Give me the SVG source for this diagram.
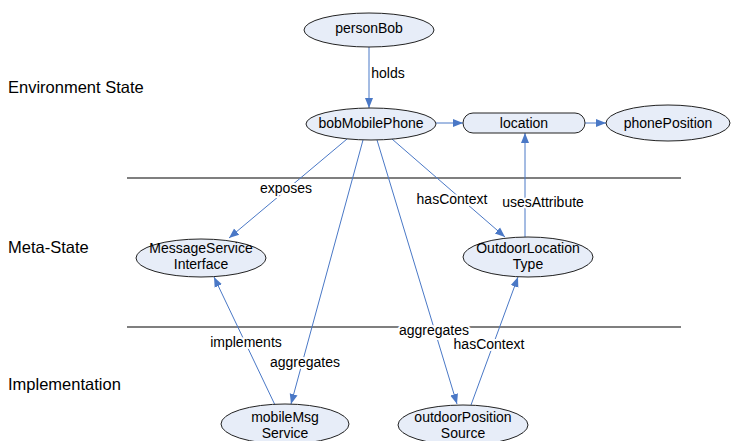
<svg xmlns="http://www.w3.org/2000/svg" width="731" height="441" viewBox="0 0 731 441">
  <style>
    .node { fill: #e7edf8; stroke: #222; stroke-width: 1; }
    .nlabel { font-family: "Liberation Sans", Arial, sans-serif; font-size: 14px; fill: #000; text-anchor: middle; }
    .elabel { font-family: "Liberation Sans", Arial, sans-serif; font-size: 14px; fill: #000; text-anchor: middle; stroke: #fff; stroke-width: 4; paint-order: stroke; stroke-linejoin: round; }
    .layer { font-family: "Liberation Sans", Arial, sans-serif; font-size: 16.5px; fill: #000; }
    .edge { stroke: #4a78c6; stroke-width: 1; fill: none; marker-end: url(#arrow); }
    .divider { stroke: #555; stroke-width: 1.3; }
  </style>
  <defs>
    <marker id="arrow" viewBox="0 0 10 10" refX="10" refY="5" markerWidth="10" markerHeight="10" markerUnits="userSpaceOnUse" orient="auto">
      <path d="M0,1 L10,5 L0,9 Z" fill="#4a78c6"/>
    </marker>
  </defs>

  <rect width="731" height="441" fill="#fff"/>

  <!-- layer captions and separators -->
  <g id="layers">
    <text class="layer" x="8" y="93">Environment State</text>
    <text class="layer" x="8" y="253">Meta-State</text>
    <text class="layer" x="8" y="390">Implementation</text>
    <line class="divider" x1="127" y1="178" x2="681" y2="178"/>
    <line class="divider" x1="127" y1="327" x2="681" y2="327"/>
  </g>

  <!-- connectors -->
  <g id="connectors">
    <line class="edge" x1="369" y1="47" x2="369" y2="108"/>
    <line class="edge" x1="436" y1="123" x2="463" y2="123"/>
    <line class="edge" x1="585" y1="123" x2="606" y2="123"/>
    <line class="edge" x1="347" y1="139" x2="229" y2="238"/>
    <line class="edge" x1="392" y1="139" x2="505" y2="237"/>
    <line class="edge" x1="525" y1="237" x2="525" y2="133"/>
    <line class="edge" x1="363" y1="140" x2="291" y2="404"/>
    <line class="edge" x1="377" y1="140" x2="457" y2="404"/>
    <line class="edge" x1="275" y1="405" x2="214" y2="277"/>
    <line class="edge" x1="471" y1="405" x2="518" y2="277"/>
    <text class="elabel" x="388" y="78">holds</text>
    <text class="elabel" x="286" y="193">exposes</text>
    <text class="elabel" x="452" y="204">hasContext</text>
    <text class="elabel" x="543" y="207">usesAttribute</text>
    <text class="elabel" x="246" y="347">implements</text>
    <text class="elabel" x="305" y="367">aggregates</text>
    <text class="elabel" x="434" y="335">aggregates</text>
    <text class="elabel" x="489" y="349">hasContext</text>
  </g>

  <g id="personBob">
    <ellipse class="node" cx="369" cy="30" rx="65" ry="17"/>
    <text class="nlabel" x="369" y="33">personBob</text>
  </g>
  <g id="bobMobilePhone">
    <ellipse class="node" cx="371" cy="124" rx="65" ry="16"/>
    <text class="nlabel" x="371" y="128">bobMobilePhone</text>
  </g>
  <g id="location">
    <rect class="node" x="463" y="113" width="122" height="20" rx="10" ry="10"/>
    <text class="nlabel" x="524" y="128">location</text>
  </g>
  <g id="phonePosition">
    <ellipse class="node" cx="668" cy="123" rx="62" ry="18"/>
    <text class="nlabel" x="668" y="128">phonePosition</text>
  </g>
  <g id="MessageServiceInterface">
    <ellipse class="node" cx="201" cy="258" rx="65" ry="19"/>
    <text class="nlabel" x="201" y="253">MessageService</text>
    <text class="nlabel" x="201" y="269">Interface</text>
  </g>
  <g id="OutdoorLocationType">
    <ellipse class="node" cx="528" cy="257" rx="65" ry="20"/>
    <text class="nlabel" x="528" y="253">OutdoorLocation</text>
    <text class="nlabel" x="528" y="269">Type</text>
  </g>
  <g id="mobileMsgService">
    <ellipse class="node" cx="285" cy="424" rx="64" ry="20"/>
    <text class="nlabel" x="285" y="422">mobileMsg</text>
    <text class="nlabel" x="285" y="438">Service</text>
  </g>
  <g id="outdoorPositionSource">
    <ellipse class="node" cx="463" cy="425" rx="65" ry="20"/>
    <text class="nlabel" x="463" y="422">outdoorPosition</text>
    <text class="nlabel" x="463" y="438">Source</text>
  </g>
</svg>
